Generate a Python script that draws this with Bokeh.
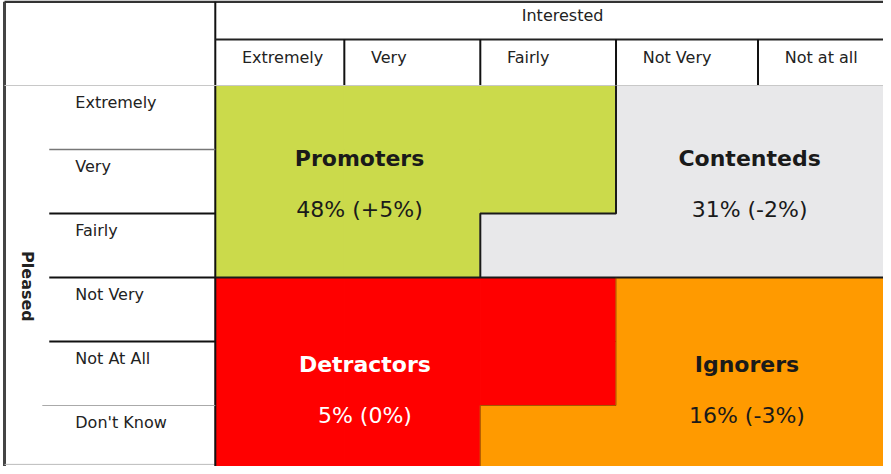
import math
from bokeh.plotting import figure
from bokeh.models import Range1d, ColumnDataSource
from bokeh.core.properties import value
from bokeh.embed import file_html
from bokeh.resources import INLINE

# ---------------- data ----------------
interested_levels = ["Extremely", "Very", "Fairly", "Not Very", "Not at all"]
pleased_levels = ["Extremely", "Very", "Fairly", "Not Very", "Not At All", "Don't Know"]
segments = ["Promoters", "Contenteds", "Detractors", "Ignorers"]
shares = [48, 31, 5, 16]
changes = [5, -2, 0, -3]
# segment index for each (pleased row, interested column) cell
segment_grid = [
    [0, 0, 0, 1, 1],
    [0, 0, 0, 1, 1],
    [0, 0, 1, 1, 1],
    [2, 2, 2, 3, 3],
    [2, 2, 2, 3, 3],
    [2, 2, 3, 3, 3],
]
x_title = "Interested"
y_title = "Pleased"

# ---------------- style / layout ----------------
seg_colors = ["#CBDA4B", "#E8E8EA", "#FF0000", "#FF9A00"]
seg_text_colors = ["#1a1a1a", "#1a1a1a", "#FFFFFF", "#1a1a1a"]
seg_anchor = [(1.08, 1.14), (4.0, 1.14), (1.12, 4.36), (3.98, 4.36)]
value_offset = 0.79
FONT = "DejaVu Sans"
# column edges (table column widths, in column units)
col_edges = [0.0, 0.966, 1.984, 3.0, 4.063, 5.0]

ncol = len(interested_levels)
nrow = len(pleased_levels)
left_edge = -1.578
label_col_line_start = -1.243
header1_top = -1.31
header_split = -0.719

p = figure(width=883, height=466, output_backend="svg", toolbar_location=None,
           x_range=Range1d(-1.608, 5.0025), y_range=Range1d(5.953, -1.328),
           x_axis_location=None, y_axis_location=None, min_border=0,
           background_fill_color="white", border_fill_color="white")
p.outline_line_color = None
p.xgrid.visible = False
p.ygrid.visible = False

# cells
L, R, T, B, C = [], [], [], [], []
for r in range(nrow):
    for c in range(ncol):
        s = segment_grid[r][c]
        L.append(col_edges[c]); R.append(col_edges[c + 1]); T.append(r); B.append(r + 1)
        C.append(seg_colors[s])
p.quad(left=L, right=R, top=T, bottom=B, fill_color=C, line_color=C, line_width=1)

# grid / frame lines
def seg(x0, y0, x1, y1, color, width, alpha=1.0):
    p.segment(x0=x0, y0=y0, x1=x1, y1=y1, line_color=color, line_width=width, line_alpha=alpha)

xmax = col_edges[-1] + 0.1
inner = col_edges[1:-1]
# outer frame
seg([left_edge], [header1_top], [left_edge], [nrow + 0.1], "#444444", 3)
seg([left_edge], [header1_top], [xmax], [header1_top], "#333333", 2.5)
seg([left_edge], [5.92], [0], [5.92], "#bbbbbb", 1)
# main vertical divider
seg([0], [header1_top], [0], [nrow + 0.1], "#111111", 2)
# header split line
seg([0], [header_split], [xmax], [header_split], "#222222", 2)
# header column dividers
seg(inner, [header_split] * len(inner), inner, [0] * len(inner), "#111111", 2)
# header bottom thin line
seg([left_edge], [0], [xmax], [0], "#c8c8c8", 1)
# row label dividers
seg([label_col_line_start], [1], [0], [1], "#777777", 1.5)
seg([label_col_line_start] * 3, [2, 3, 4], [0] * 3, [2, 3, 4], "#111111", 2)
seg([-1.295], [5], [0], [5], "#aaaaaa", 1)
# segment boundaries
e2, e3 = col_edges[2], col_edges[3]
p.line(x=[e3, e3, e2, e2], y=[0, 2, 2, 3], line_color="#1a1a1a", line_width=2)
seg([0], [3], [xmax], [3], "#1a1a1a", 2)
p.line(x=[e3, e3, e2, e2], y=[3, 5, 5, 6.1], line_color="#6a2a00", line_width=1, line_alpha=0.6)

# header texts
p.text(x=[2.6], y=[-1.09], text=[x_title], text_font=value(FONT), text_font_size="16px",
       text_align="center", text_baseline="middle", text_color="#222222")
p.text(x=[col_edges[c] + 0.2 for c in range(ncol)], y=[-0.44] * ncol, text=interested_levels,
       text_font=value(FONT), text_font_size="16px", text_align="left",
       text_baseline="middle", text_color="#222222")
p.text(x=[-1.048] * nrow, y=[r + 0.27 for r in range(nrow)], text=pleased_levels,
       text_font=value(FONT), text_font_size="16px", text_align="left",
       text_baseline="middle", text_color="#222222")
p.text(x=[-1.407], y=[3.14], text=[y_title], angle=-math.pi / 2, text_font=value(FONT),
       text_font_size="16px", text_font_style="bold", text_align="center",
       text_baseline="middle", text_color="#222222")

# segment labels
def fmt(share, ch):
    chs = f"+{ch}" if ch > 0 else f"{ch}"
    return f"{share}% ({chs}%)"

src = ColumnDataSource(dict(
    x=[a[0] for a in seg_anchor],
    y=[a[1] for a in seg_anchor],
    y2=[a[1] + value_offset for a in seg_anchor],
    name=segments,
    val=[fmt(s, c) for s, c in zip(shares, changes)],
    color=seg_text_colors,
))
p.text(x="x", y="y", text="name", source=src, text_font=value(FONT), text_font_size="22px",
       text_font_style="bold", text_align="center", text_baseline="middle", text_color="color")
p.text(x="x", y="y2", text="val", source=src, text_font=value(FONT), text_font_size="22px",
       text_align="center", text_baseline="middle", text_color="color")

open("out.html", "w").write(file_html(p, INLINE))
